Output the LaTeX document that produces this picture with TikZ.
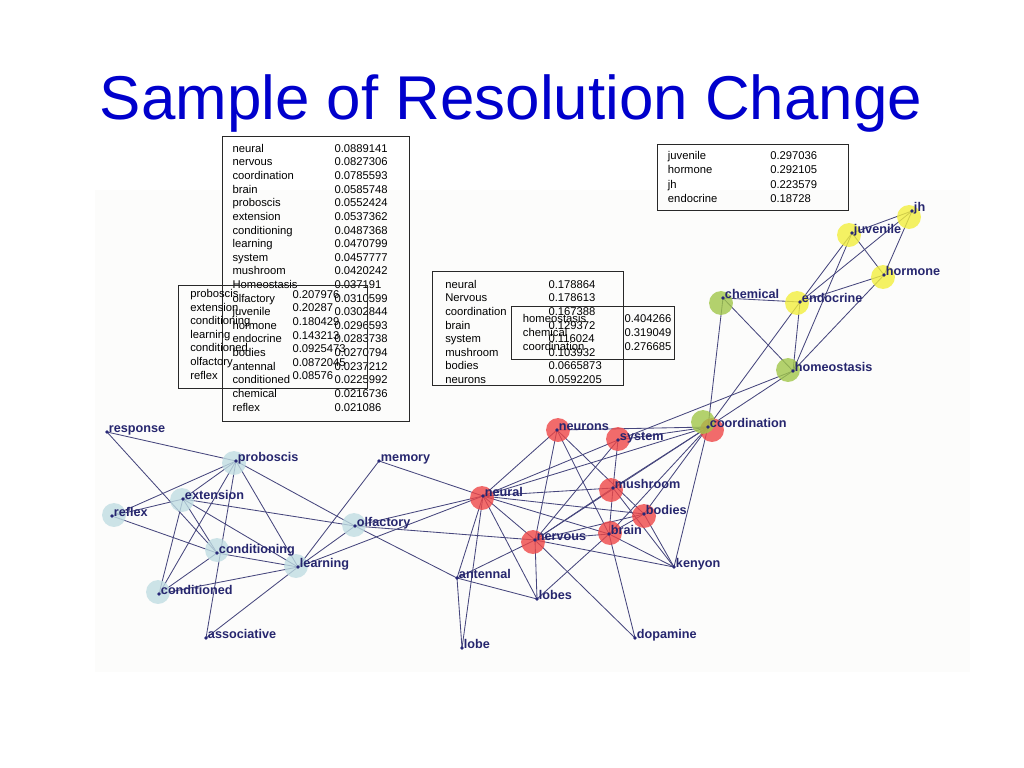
\documentclass[tikz,border=0pt]{standalone}
\usepackage{fontspec}
\setmainfont{Liberation Sans}
\pgfdeclarelayer{bgl}
\pgfdeclarelayer{edgel}
\pgfdeclarelayer{halol}
\pgfsetlayers{bgl,edgel,halol,main}
\definecolor{edgecol}{RGB}{70,70,125}
\definecolor{dotcol}{RGB}{40,40,120}
\definecolor{lblcol}{RGB}{38,38,110}
\definecolor{haloblue}{RGB}{192,221,226}
\definecolor{halored}{RGB}{239,71,71}
\definecolor{haloyel}{RGB}{242,239,61}
\definecolor{halogreen}{RGB}{161,199,74}
\definecolor{titleblue}{RGB}{0,0,204}
\definecolor{graphbg}{RGB}{252,252,251}
\definecolor{boxcol}{RGB}{40,40,40}
\begin{document}
\begin{tikzpicture}[x=0.025cm,y=-0.025cm,
  titlestyle/.style={font=\fontsize{44}{48}\selectfont, text=titleblue, inner sep=0, anchor=base},
  tbl/.style={font=\fontsize{8}{9}\selectfont, inner sep=0, anchor=base west},
  tblbox/.style={draw=boxcol, line width=0.7pt},
  lbl/.style={font=\bfseries\fontsize{9}{10}\selectfont, text=lblcol, inner sep=0, anchor=base west, xshift=1.2pt, yshift=-0.6pt},
  gdot/.style={circle, fill=dotcol, inner sep=0, minimum size=2.8pt},
  halo/.style={circle, inner sep=0, minimum size=17pt, fill opacity=0.8, draw=none},
  edgeline/.style={draw=edgecol, line width=0.6pt}]
\useasboundingbox (0,0) rectangle (1024,768);
\begin{pgfonlayer}{bgl}
\fill[graphbg] (95,190) rectangle (970,672);
\end{pgfonlayer}

% title
\node[titlestyle] (title) at (511,120) {Sample of Resolution Change};

% tables
\foreach \n/\v [count=\i from 0] in {neural/0.0889141, nervous/0.0827306, coordination/0.0785593, brain/0.0585748, proboscis/0.0552424, extension/0.0537362, conditioning/0.0487368, learning/0.0470799, system/0.0457777, mushroom/0.0420242, Homeostasis/0.037191, olfactory/0.0310599, juvenile/0.0302844, hormone/0.0296593, endocrine/0.0283738, bodies/0.0270794, antennal/0.0237212, conditioned/0.0225992, chemical/0.0216736, reflex/0.021086}
  {\node[tbl] (ta-n\i) at (232.3,{152.3+13.62*\i}) {\n};
   \node[tbl] (ta-v\i) at (334.3,{152.3+13.62*\i}) {\v};}
\draw[tblbox] (222.5,136.5) rectangle (409.3,421);

\foreach \n/\v [count=\i from 0] in {proboscis/0.207976, extension/0.20287, conditioning/0.180429, learning/0.143213, conditioned/0.0925473, olfactory/0.0872045, reflex/0.08576}
  {\node[tbl] (tb-n\i) at (190,{297.5+13.6*\i}) {\n};
   \node[tbl] (tb-v\i) at (292.3,{298.3+13.6*\i}) {\v};}
\draw[tblbox] (178.3,285) rectangle (367.3,388.3);

\foreach \n/\v [count=\i from 0] in {neural/0.178864, Nervous/0.178613, coordination/0.167388, brain/0.129372, system/0.116024, mushroom/0.103932, bodies/0.0665873, neurons/0.0592205}
  {\node[tbl] (tc-n\i) at (445,{288.3+13.57*\i}) {\n};
   \node[tbl] (tc-v\i) at (548.3,{288.3+13.57*\i}) {\v};}
\draw[tblbox] (432.7,271.7) rectangle (623.3,385);

\foreach \n/\v [count=\i from 0] in {homeostasis/0.404266, chemical/0.319049, coordination/0.276685}
  {\node[tbl] (td-n\i) at (522.7,{322.7+13.65*\i}) {\n};
   \node[tbl] (td-v\i) at (624.3,{322.7+13.65*\i}) {\v};}
\draw[tblbox] (511.7,306.7) rectangle (674,359.3);

\foreach \n/\v [count=\i from 0] in {juvenile/0.297036, hormone/0.292105, jh/0.223579, endocrine/0.18728}
  {\node[tbl] (te-n\i) at (667.7,{159.3+14.45*\i}) {\n};
   \node[tbl] (te-v\i) at (770,{159.3+14.45*\i}) {\v};}
\draw[tblbox] (657.7,144) rectangle (848.3,210.7);

% graph nodes (dots) and labels
\foreach \nm/\x/\y in {response/107/432, proboscis/236/461, extension/183/499, reflex/112/516,
  conditioning/217/553, learning/298/567, conditioned/159/594, associative/206/638,
  olfactory/355/526, memory/379/461, neural/483/496, neurons/557/430, system/618/440,
  mushroom/613/488, bodies/644/514, brain/609/534, nervous/535/540, antennal/457/578,
  lobes/537/599, lobe/462/648, kenyon/674/567, dopamine/635/638, coordination/708/427,
  chemical/723/298, endocrine/800/302, homeostasis/793/371, juvenile/852/233,
  jh/912/211, hormone/884/275}
  {\node[gdot] (\nm) at (\x,\y) {};
   \node[lbl] (\nm-l) at (\x,\y) {\nm};}

% halos
\begin{pgfonlayer}{halol}
\foreach \nm/\x/\y in {proboscis/234/463, extension/182/500, reflex/114/515, conditioning/217/550,
  learning/296/566, conditioned/158/592, olfactory/354/525}
  {\node[halo, fill=haloblue] (\nm-h) at (\x,\y) {};}
\foreach \nm/\x/\y in {neural/482/498, neurons/558/430, system/618/439, mushroom/611/490,
  bodies/644/516, brain/610/533, nervous/533/542, coordination/712/430}
  {\node[halo, fill=halored] (\nm-h) at (\x,\y) {};}
\foreach \nm/\x/\y in {chemical/721/303, homeostasis/788/370, coordination/703/422}
  {\node[halo, fill=halogreen] (\nm-g) at (\x,\y) {};}
\foreach \nm/\x/\y in {endocrine/797/303, juvenile/849/235, jh/909/217, hormone/883/277}
  {\node[halo, fill=haloyel] (\nm-h) at (\x,\y) {};}
\end{pgfonlayer}

% edges
\begin{pgfonlayer}{edgel}
\foreach \a/\b in {response/proboscis, response/conditioning, proboscis/reflex, proboscis/extension,
  proboscis/conditioned, proboscis/associative, proboscis/learning, proboscis/olfactory,
  extension/reflex, extension/conditioning, extension/learning, extension/conditioned,
  extension/olfactory, reflex/conditioning, conditioning/learning, conditioning/conditioned,
  conditioned/learning, associative/learning, learning/olfactory, learning/memory,
  learning/neural, olfactory/neural, olfactory/nervous, olfactory/antennal,
  memory/neural, neural/neurons, neural/system, neural/coordination, neural/mushroom,
  neural/bodies, neural/brain, neural/nervous, neural/antennal, neural/lobe, neural/lobes,
  neurons/nervous, neurons/brain, neurons/bodies, neurons/coordination,
  system/coordination, system/mushroom, system/nervous, system/homeostasis,
  mushroom/brain, mushroom/nervous, mushroom/coordination, mushroom/kenyon,
  bodies/coordination, bodies/kenyon, bodies/brain, bodies/nervous,
  brain/nervous, brain/lobes, brain/dopamine, brain/coordination, brain/kenyon,
  nervous/lobes, nervous/dopamine, nervous/antennal, nervous/coordination, nervous/kenyon,
  antennal/lobe, antennal/lobes, coordination/kenyon,
  chemical/endocrine, chemical/homeostasis, chemical/coordination,
  endocrine/juvenile, endocrine/jh, endocrine/hormone, endocrine/homeostasis,
  endocrine/coordination, juvenile/jh, juvenile/hormone, juvenile/homeostasis,
  jh/hormone, hormone/homeostasis, homeostasis/coordination}
  {\draw[edgeline] (\a.center) -- (\b.center);}
\end{pgfonlayer}
\end{tikzpicture}
\end{document}
